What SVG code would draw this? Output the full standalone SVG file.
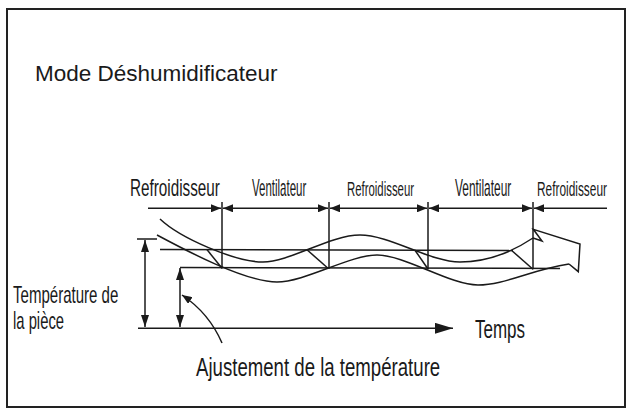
<svg xmlns="http://www.w3.org/2000/svg" width="631" height="409" viewBox="0 0 631 409">
<style>
.ln{stroke:#1a1a1a;stroke-width:1.5;fill:none}
.tx{font-family:"Liberation Sans",Arial,sans-serif;fill:#1a1a1a}
</style>
<defs>
<marker id="ah" viewBox="0 0 10 8" refX="10" refY="4" markerUnits="userSpaceOnUse" markerWidth="10" markerHeight="8" orient="auto-start-reverse"><path d="M0,0 L10,4 L0,8 z" fill="#1a1a1a"/></marker>
<marker id="av" viewBox="0 0 12 8" refX="12" refY="4" markerUnits="userSpaceOnUse" markerWidth="12" markerHeight="8" orient="auto-start-reverse"><path d="M0,0 L12,4 L0,8 z" fill="#1a1a1a"/></marker>
<marker id="ab" viewBox="0 0 18 11" refX="18" refY="5.5" markerUnits="userSpaceOnUse" markerWidth="18" markerHeight="11" orient="auto"><path d="M0,0 L18,5.5 L0,11 z" fill="#1a1a1a"/></marker>
</defs>
<rect x="7" y="9" width="618" height="398" fill="#fff" stroke="#222" stroke-width="2"/>
<g id="title"><text class="tx" x="35" y="81" font-size="22.5">Mode Déshumidificateur</text></g>
<g id="labels">
<text class="tx" transform="translate(130,196) scale(0.664,1)" font-size="23">Refroidisseur</text>
<text class="tx" transform="translate(252,196) scale(0.5,1)" font-size="23">Ventilateur</text>
<text class="tx" transform="translate(347,196) scale(0.569,1)" font-size="20">Refroidisseur</text>
<text class="tx" transform="translate(455,196) scale(0.518,1)" font-size="23">Ventilateur</text>
<text class="tx" transform="translate(537,196) scale(0.594,1)" font-size="20">Refroidisseur</text>
<text class="tx" transform="translate(13,302.7) scale(0.627,1)" font-size="24">Température de</text>
<text class="tx" transform="translate(13,329) scale(0.617,1)" font-size="24">la pièce</text>
<text class="tx" transform="translate(475,338) scale(0.68,1)" font-size="25">Temps</text>
<text class="tx" transform="translate(196,376) scale(0.716,1)" font-size="26">Ajustement de la température</text>
</g>
<g id="connectors">
<line class="ln" x1="148" y1="208.3" x2="221" y2="208.3" marker-end="url(#ah)"/>
<line class="ln" x1="223" y1="208.3" x2="328" y2="208.3" marker-start="url(#ah)" marker-end="url(#ah)"/>
<line class="ln" x1="330" y1="208.3" x2="427" y2="208.3" marker-start="url(#ah)" marker-end="url(#ah)"/>
<line class="ln" x1="429" y1="208.3" x2="532" y2="208.3" marker-start="url(#ah)" marker-end="url(#ah)"/>
<line class="ln" x1="534" y1="208.3" x2="607" y2="208.3" marker-start="url(#ah)"/>
<line class="ln" x1="222" y1="202" x2="222" y2="268.5"/>
<line class="ln" x1="329" y1="202" x2="329" y2="268.5"/>
<line class="ln" x1="428" y1="202" x2="428" y2="269.3"/>
<line class="ln" x1="533" y1="202" x2="533" y2="269.3"/>
<line class="ln" x1="160" y1="249.5" x2="513" y2="250.5"/>
<line class="ln" x1="180" y1="267.5" x2="560" y2="268.5"/>
<line class="ln" x1="206.7" y1="249.3" x2="222" y2="268.3"/>
<line class="ln" x1="306.7" y1="249.5" x2="328" y2="268.3"/>
<line class="ln" x1="415" y1="250.3" x2="428" y2="269"/>
<line class="ln" x1="511.7" y1="250.5" x2="533" y2="269.3"/>
<path class="ln" d="M160,219 C180,238 235,262 263,262 C290,262 330,235 360,235 C390,235 430,262 460,262 C490,262 515,250 533,238"/>
<path class="ln" d="M157,235 C185,250 245,282 277,282 C305,282 350,255 377,255 C405,255 450,285 478,285 C505,285 530,270 569,264"/>
<path class="ln" stroke-linejoin="miter" d="M533,238 L542,241 L533.3,229.3 L580,244 L578.3,271.7 L569,264"/>
<line class="ln" x1="137" y1="239" x2="157" y2="239"/>
<line class="ln" x1="145" y1="240" x2="145" y2="327" marker-start="url(#av)" marker-end="url(#av)"/>
<line class="ln" x1="180" y1="268" x2="180" y2="327" marker-start="url(#av)" marker-end="url(#av)"/>
<line class="ln" x1="138" y1="328.3" x2="453" y2="328.3" marker-end="url(#ab)"/>
<path class="ln" d="M182,295 Q209,313 222,343" marker-start="url(#ah)"/>
</g>
</svg>
